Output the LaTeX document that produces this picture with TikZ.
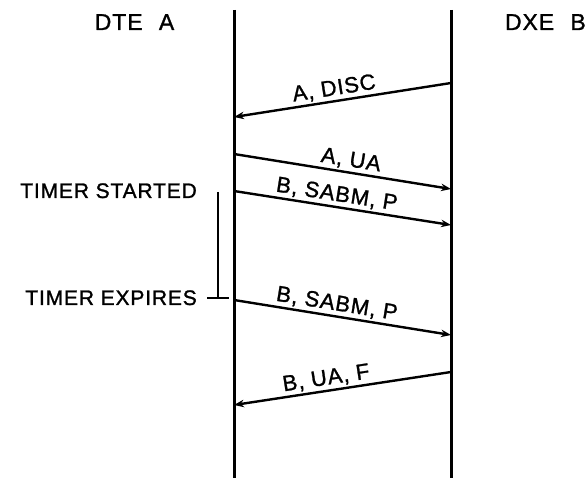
\documentclass[tikz,border=0pt]{standalone}
\usepackage{fontspec}
\setmainfont{Liberation Sans}
\newfontfamily\lett[LetterSpace=4,FakeBold=1.2]{Liberation Sans}
\usetikzlibrary{arrows.meta}
\begin{document}
\begin{tikzpicture}[x=1pt,y=-1pt,
  lifeline/.style={line width=3pt},
  msg/.style={line width=2.4pt,-{Stealth[length=10pt,width=7.5pt]}},
  msglabel/.style={font=\lett\fontsize{22}{22}\selectfont,sloped,above,inner sep=2pt},
  title/.style={font=\lett\fontsize{23}{23}\selectfont,inner sep=0pt},
  side/.style={font=\lett\fontsize{21}{21}\selectfont,inner sep=0pt},
  timer/.style={line width=1.8pt}]
\useasboundingbox (0,0) rectangle (586,478);
% lifelines
\coordinate (Atop) at (234,10);
\coordinate (Abot) at (234,478);
\coordinate (Btop) at (451,10);
\coordinate (Bbot) at (451,478);
\draw[lifeline] (Atop) -- (Abot);
\draw[lifeline] (Btop) -- (Bbot);
% titles
\node[title,anchor=base] (dte) at (134.5,30) {DTE\hspace{9pt} A};
\node[title,anchor=base east] (dxe) at (586,30) {DXE\hspace{9pt} B};
% message endpoints
\coordinate (m1s) at (451,83);  \coordinate (m1e) at (234,117);
\coordinate (m2s) at (234,154); \coordinate (m2e) at (451,189);
\coordinate (m3s) at (234,191); \coordinate (m3e) at (451,225);
\coordinate (m4s) at (234,300); \coordinate (m4e) at (451,335);
\coordinate (m5s) at (451,372); \coordinate (m5e) at (234,405);
\draw[msg] (m1s) -- node[msglabel,pos=0.53] {A, DISC} (m1e);
\draw[msg] (m2s) -- node[msglabel,pos=0.53] {A, UA} (m2e);
\draw[msg] (m3s) -- node[msglabel,pos=0.465] {B, SABM, P} (m3e);
\draw[msg] (m4s) -- node[msglabel,pos=0.465] {B, SABM, P} (m4e);
\draw[msg] (m5s) -- node[msglabel,pos=0.567] {B, UA, F} (m5e);
% timer
\node[side,anchor=base east] (tstart) at (197,198) {TIMER STARTED};
\node[side,anchor=base east] (texp) at (197,305) {TIMER EXPIRES};
\coordinate (ts) at (218,192);
\coordinate (te) at (218,298);
\coordinate (tl) at (207,298);
\coordinate (tr) at (229,298);
\draw[timer] (ts) -- (te);
\draw[timer] (tl) -- (tr);
\end{tikzpicture}
\end{document}
